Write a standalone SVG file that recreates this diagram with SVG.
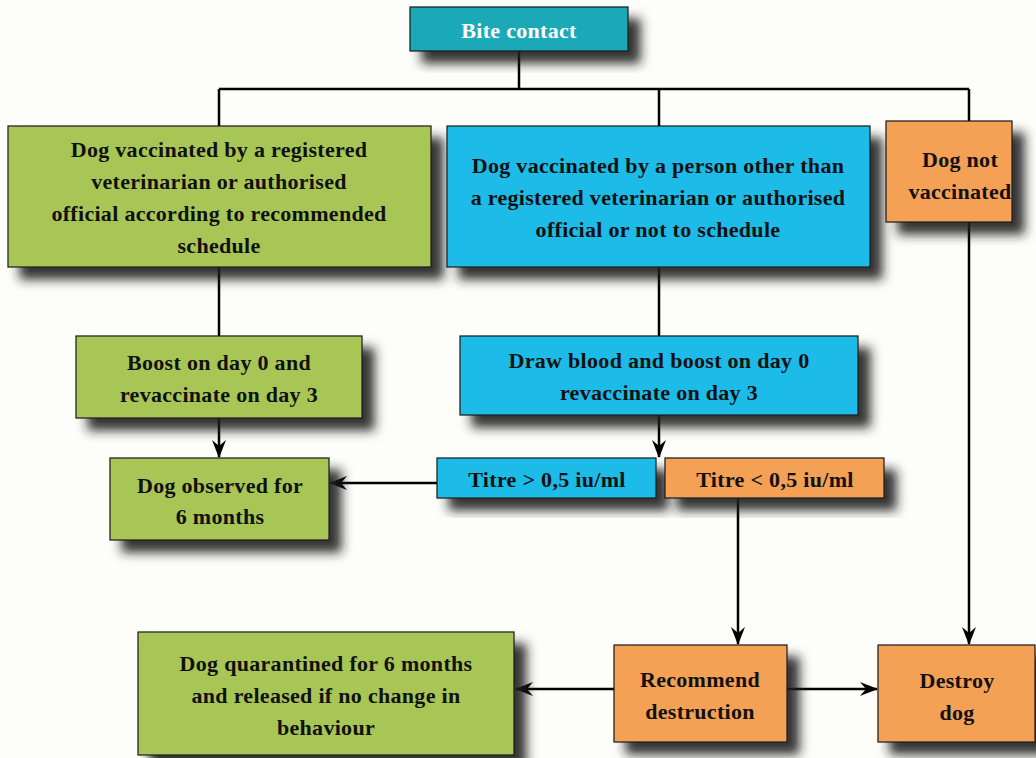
<svg xmlns="http://www.w3.org/2000/svg" width="1036" height="758" viewBox="0 0 1036 758">
<style>
.box{stroke:#1a1a1a;stroke-width:1.2}
.g{fill:#a8c655}.b{fill:#1ebbe8}.o{fill:#f4a055}.t{fill:#1ba9b7}
text{font-family:"Liberation Serif","Times New Roman",serif;font-weight:bold;font-size:22px;letter-spacing:0.3px;fill:#111;text-anchor:middle}
.w{fill:#fff}
.ln{stroke:#000;stroke-width:2.5;fill:none}
.ar{marker-end:url(#arr)}
</style>
<defs>
<filter id="sh" x="-20%" y="-30%" width="150%" height="180%">
<feDropShadow dx="12" dy="12" stdDeviation="5.5" flood-color="#1a1a1a" flood-opacity="0.9"/>
</filter>
<marker id="arr" viewBox="0 0 18 14" refX="17" refY="7" markerWidth="7.2" markerHeight="5.6" orient="auto">
<path d="M0,0 L18,7 L0,14 L6,7 z" fill="#000"/>
</marker>
</defs>
<rect width="1036" height="758" fill="#fdfdfa"/>
<g id="connectors">
<path class="ln" d="M519,51 V89 M219,89 H969 M219,89 V126 M659,89 V126 M969,89 V121"/>
<path class="ln" d="M219,267 V336"/>
<path class="ln ar" d="M219,418 V457"/>
<path class="ln" d="M659,267 V336"/>
<path class="ln ar" d="M659,415 V457"/>
<path class="ln ar" d="M437,483 H330"/>
<path class="ln ar" d="M738,498 V644"/>
<path class="ln ar" d="M614,689 H516"/>
<path class="ln ar" d="M787,689 H877"/>
<path class="ln ar" d="M969,222 V644"/>
</g>
<g id="bite"><rect class="box t" x="410" y="7" width="218" height="44" filter="url(#sh)"/><text class="w" x="519" y="38">Bite contact</text></g>
<g id="vacc-reg"><rect class="box g" x="8" y="126" width="423" height="141" filter="url(#sh)"/>
<text x="219" y="157">Dog vaccinated by a registered</text><text x="219" y="189">veterinarian or authorised</text><text x="219" y="221">official according to recommended</text><text x="219" y="253">schedule</text></g>
<g id="vacc-other"><rect class="box b" x="447" y="126" width="423" height="141" filter="url(#sh)"/>
<text x="658" y="173">Dog vaccinated by a person other than</text><text x="658" y="205">a registered veterinarian or authorised</text><text x="658" y="237">official or not to schedule</text></g>
<g id="not-vacc"><rect class="box o" x="886" y="121" width="126" height="101" filter="url(#sh)"/>
<text x="960" y="167">Dog not</text><text x="960" y="199">vaccinated</text></g>
<g id="boost"><rect class="box g" x="76" y="336" width="286" height="82" filter="url(#sh)"/>
<text x="219" y="370">Boost on day 0 and</text><text x="219" y="402">revaccinate on day 3</text></g>
<g id="draw"><rect class="box b" x="460" y="336" width="398" height="79" filter="url(#sh)"/>
<text x="659" y="368">Draw blood and boost on day 0</text><text x="659" y="400">revaccinate on day 3</text></g>
<g id="observed"><rect class="box g" x="110" y="458" width="219" height="82" filter="url(#sh)"/>
<text x="220" y="493">Dog observed for</text><text x="220" y="524">6 months</text></g>
<g id="titre-hi"><rect class="box b" x="437" y="458" width="219" height="40" filter="url(#sh)"/><text x="547" y="487">Titre &gt; 0,5 iu/ml</text></g>
<g id="titre-lo"><rect class="box o" x="665" y="458" width="219" height="40" filter="url(#sh)"/><text x="775" y="487">Titre &lt; 0,5 iu/ml</text></g>
<g id="quarantine"><rect class="box g" x="138" y="632" width="376" height="123" filter="url(#sh)"/>
<text x="326" y="671">Dog quarantined for 6 months</text><text x="326" y="703">and released if no change in</text><text x="326" y="735">behaviour</text></g>
<g id="recommend"><rect class="box o" x="614" y="645" width="173" height="97" filter="url(#sh)"/>
<text x="700" y="687">Recommend</text><text x="700" y="719">destruction</text></g>
<g id="destroy"><rect class="box o" x="878" y="645" width="157" height="97" filter="url(#sh)"/>
<text x="957" y="688">Destroy</text><text x="957" y="720">dog</text></g>
</svg>
